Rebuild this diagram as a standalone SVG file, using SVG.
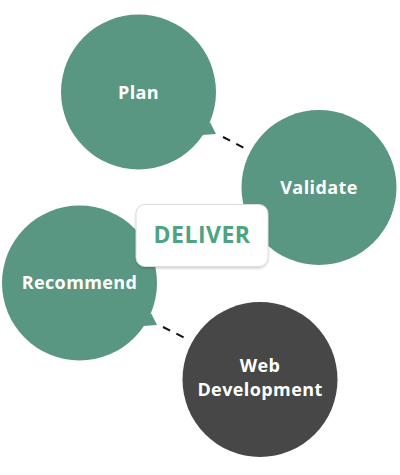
<svg xmlns="http://www.w3.org/2000/svg" width="400" height="475" viewBox="0 0 400 475">
<defs>
<filter id="sh" x="-10%" y="-10%" width="120%" height="130%">
<feDropShadow dx="0" dy="1.5" stdDeviation="1.2" flood-color="#000" flood-opacity="0.18"/>
</filter>
</defs>
<style>
.g{fill:#5a9782}
.d{fill:#474747}
.t{font-family:"Open Sans","DejaVu Sans",sans-serif;font-weight:bold;font-size:18px;fill:#fff;text-anchor:middle;letter-spacing:0.4px}
.c{stroke:#111;stroke-width:2;stroke-dasharray:8 7;fill:none}
</style>
<rect width="400" height="475" fill="#fff"/>
<g id="connectors">
<line class="c" x1="223" y1="137" x2="244" y2="148"/>
<line class="c" x1="163" y1="327" x2="185" y2="338"/>
</g>
<g id="plan">
<circle class="g" cx="138.5" cy="92" r="77.5"/>
<path class="g" d="M210 122 L216 134 L202 135 Z"/>
<text class="t" x="138.5" y="98.5">Plan</text>
</g>
<g id="validate">
<circle class="g" cx="319" cy="187.5" r="77.5"/>
<text class="t" x="319" y="193.5">Validate</text>
</g>
<g id="recommend">
<circle class="g" cx="79.5" cy="283" r="77.5"/>
<path class="g" d="M151 313 L157 325 L143 326 Z"/>
<text class="t" x="79.5" y="289">Recommend</text>
</g>
<g id="webdev">
<circle class="d" cx="260" cy="379.5" r="77.5"/>
<text class="t" x="260" y="372">Web</text>
<text class="t" x="260" y="396">Development</text>
</g>
<g id="deliver">
<rect x="136" y="204.5" width="132" height="62" rx="9" fill="#fff" stroke="#dcdcdc" stroke-width="1" filter="url(#sh)"/>
<text x="202" y="243" font-family="'Open Sans','DejaVu Sans',sans-serif" font-weight="bold" font-size="23" fill="#4ea383" text-anchor="middle" letter-spacing="0.5">DELIVER</text>
</g>
</svg>
